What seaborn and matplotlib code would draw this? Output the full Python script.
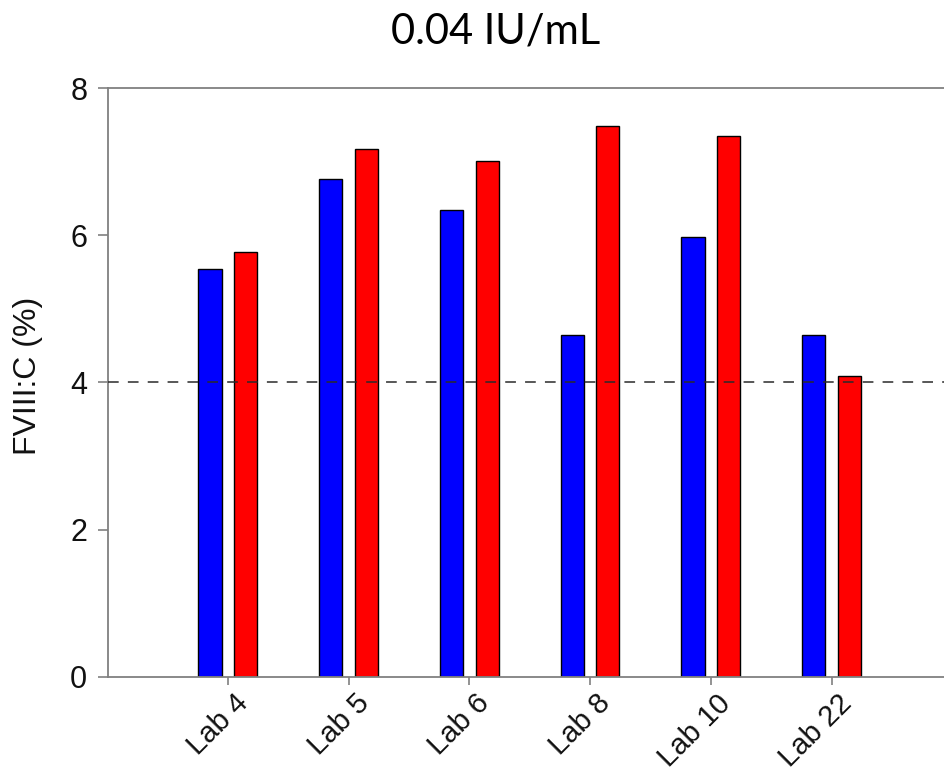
import matplotlib
matplotlib.use("Agg")
import matplotlib.pyplot as plt
import matplotlib.transforms as mtransforms
import seaborn as sns
import pandas as pd

labs = ["Lab 4", "Lab 5", "Lab 6", "Lab 8", "Lab 10", "Lab 22"]
series_names = ["Series A", "Series B"]
blue_values = [5.54, 6.76, 6.34, 4.64, 5.98, 4.64]
red_values = [5.77, 7.17, 7.01, 7.48, 7.35, 4.08]
threshold = 4.0
yticks = [0, 2, 4, 6, 8]
title = "0.04 IU/mL"
ylabel = "FVIII:C (%)"

df = pd.DataFrame({
    "lab": labs * 2,
    "series": [series_names[0]] * len(labs) + [series_names[1]] * len(labs),
    "value": blue_values + red_values,
})

sns.set_theme(style="white")
plt.rcParams["font.family"] = ["Liberation Sans", "DejaVu Sans"]

fig = plt.figure(figsize=(9.45, 7.76), dpi=100)
W, H = 945, 776
left, right, bottom, top = 108, 945, 676.7, 88
ax = fig.add_axes([left / W, 1 - bottom / H, (right - left) / W, (bottom - top) / H])

sns.barplot(data=df, x="lab", y="value", hue="series",
            palette=["#0000ff", "#ff0000"], saturation=1,
            width=0.59, gap=0.35, edgecolor="black", linewidth=1.0,
            errorbar=None, legend=False, ax=ax, zorder=2)

ax.axhline(threshold, color="#2a2a2a", lw=1.1, ls=(0, (7, 6)), zorder=3)

ax.set_ylim(0, 8)
ax.set_yticks(yticks)
ax.set_yticklabels([str(v) for v in yticks])
ax.set_xlim(-0.993, 5.94)

for s in ["left", "bottom", "top"]:
    ax.spines[s].set_color("#808080")
    ax.spines[s].set_linewidth(1.3)
ax.spines["right"].set_visible(False)

ax.tick_params(axis="y", left=True, length=7, width=1.2, color="#808080",
               pad=8, labelsize=22, labelcolor="#111111")
ax.tick_params(axis="x", bottom=True, length=6, width=1.2, color="#808080",
               pad=3, labelsize=21, labelcolor="#111111")
offset = mtransforms.ScaledTranslation(6 / 100, 0, fig.dpi_scale_trans)
for lbl in ax.get_xticklabels():
    lbl.set_rotation(45)
    lbl.set_ha("right")
    lbl.set_va("top")
    lbl.set_rotation_mode("anchor")
    lbl.set_transform(lbl.get_transform() + offset)

ax.set_xlabel("")
ax.set_ylabel(ylabel, fontsize=23, color="#111111", va="center")
ax.yaxis.set_label_coords((28 - left) / (right - left), (bottom - 376) / (bottom - top))

fig.text(496 / W, 1 - 43 / H, title, ha="center", va="baseline",
         fontfamily=["Lato", "DejaVu Sans"], fontsize=30, color="black")

fig.savefig("out.png", dpi=100)
